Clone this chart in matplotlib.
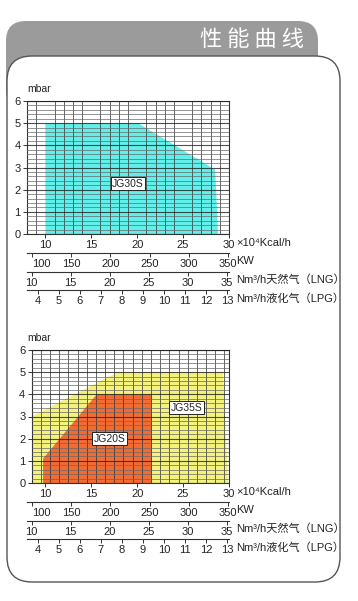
import matplotlib
matplotlib.use("Agg")
import matplotlib.pyplot as plt
from matplotlib.patches import FancyBboxPatch
import numpy as np

plt.rcParams["font.family"] = ["Liberation Sans", "Noto Sans CJK SC", "DejaVu Sans"]

W, H = 358, 601

# ---- data ----
pressure_ticks = [0, 1, 2, 3, 4, 5, 6]
kcal_ticks = [10, 15, 20, 25, 30]
kw_ticks = [100, 150, 200, 250, 300, 350]
lng_ticks = [10, 15, 20, 25, 30, 35]
lpg_ticks = [4, 5, 6, 7, 8, 9, 10, 11, 12, 13]

# conversions to x10^4 kcal/h
KW_PER_UNIT = 11.7
LNG_FACTOR = 0.85
LPG_FACTOR = 2.29

jg30s_x = [10, 10, 20.1, 28.5, 28.8]
jg30s_y = [0, 5, 5, 2.9, 0]

jg35s_x = [8.5, 8.5, 17.9, 29.35, 29.9]
jg35s_y = [0, 3.0, 5, 5, 0]

jg20s_x = [9.75, 9.75, 15.6, 21.6, 21.6]
jg20s_y = [0, 1.1, 4.0, 4.0, 0]

unit_labels = ["×10⁴Kcal/h", "KW", "Nm³/h天然气（LNG）", "Nm³/h液化气（LPG）"]

TXT = "#222222"
FS = 8


def px_rect(x0, y0, x1, y1):
    return [x0 / W, 1 - y1 / H, (x1 - x0) / W, (y1 - y0) / H]


fig = plt.figure(figsize=(W / 100, H / 100), dpi=100)

# background: grey tab + white rounded panel
bg = fig.add_axes([0, 0, 1, 1], zorder=0)
bg.set_xlim(0, W)
bg.set_ylim(0, H)
bg.axis("off")
bg.add_patch(FancyBboxPatch((6, H - 110), 312, 89, boxstyle="round,pad=0,rounding_size=20",
                            fc="#9b9b9b", ec="none"))
bg.add_patch(FancyBboxPatch((7, H - 582), 333, 526, boxstyle="round,pad=0,rounding_size=25",
                            fc="white", ec="#555555", lw=1.0))
bg.text(304, H - 40, "性 能 曲 线", color="white", fontsize=16, ha="right", va="center",
        family=["Noto Sans CJK SC", "DejaVu Sans"])


def main_chart(x0, x1, y0, y1, xlim, minor_x, polys, labels):
    ax = fig.add_axes(px_rect(x0, y0, x1, y1), zorder=2)
    ax.set_xlim(*xlim)
    ax.set_ylim(0, 6)
    for xs, ys, col in polys:
        ax.fill(xs, ys, color=col, lw=0, zorder=1)
    ax.set_xticks(kcal_ticks)
    ax.set_xticks(minor_x, minor=True)
    ax.set_yticks(pressure_ticks)
    ax.set_yticks(np.round(np.arange(0, 6.01, 0.2), 1), minor=True)
    ax.tick_params(which="minor", length=0)
    ax.tick_params(which="major", length=3, width=0.7, color="#333333",
                   labelsize=FS, labelcolor=TXT, pad=1.5)
    ax.set_axisbelow(False)
    ax.grid(which="minor", axis="x", color="#333333", lw=0.7, alpha=0.75)
    ax.grid(which="minor", axis="y", color="#666666", lw=0.7, alpha=0.7)
    ax.grid(which="major", axis="y", color="#222222", lw=0.8, alpha=0.8)
    for s in ax.spines.values():
        s.set_color("#333333")
        s.set_linewidth(0.8)
    for xt, yt, txt in labels:
        ax.text(xt, yt, txt, fontsize=7.5, ha="center", va="center", color=TXT, zorder=5,
                bbox=dict(boxstyle="square,pad=0.15", fc="white", ec="#222222", lw=0.7))
    fig.text(27 / W, 1 - (y0 - 12) / H, "mbar", fontsize=7.5, color=TXT, ha="left", va="center")
    return ax


def scale_row(y_line, ticks, pos, first_left=False):
    ax = fig.add_axes(px_rect(27, y_line - 0.5, 229, y_line), zorder=2)
    ax.set_facecolor("none")
    ax.set_xlim(8, 30)
    for k in ["top", "left", "right"]:
        ax.spines[k].set_visible(False)
    ax.spines["bottom"].set_color("#333333")
    ax.spines["bottom"].set_linewidth(0.8)
    ax.set_yticks([])
    ax.set_xticks(pos)
    ax.set_xticklabels([str(t) for t in ticks])
    ax.tick_params(axis="x", length=3, width=0.7, color="#333333", labelsize=FS,
                   labelcolor=TXT, pad=1)
    if first_left:
        ax.get_xticklabels()[0].set_horizontalalignment("left")
    return ax


def unit_text(y_px, txt):
    fig.text(236 / W, 1 - y_px / H, txt, fontsize=FS, color=TXT, ha="left", va="center")


def chart_block(y_zero, x0, xlim, minor_x, polys, labels):
    main_chart(x0, 229, y_zero - 133, y_zero, xlim, minor_x, polys, labels)
    kw_pos = [v / KW_PER_UNIT for v in kw_ticks]
    lng_pos = [v * LNG_FACTOR for v in lng_ticks]
    lpg_pos = [v * LPG_FACTOR for v in lpg_ticks]
    scale_row(y_zero + 19, kw_ticks, kw_pos, first_left=True)
    scale_row(y_zero + 38, lng_ticks, lng_pos)
    scale_row(y_zero + 56, lpg_ticks, lpg_pos)
    unit_text(y_zero + 9, unit_labels[0])
    unit_text(y_zero + 27, unit_labels[1])
    unit_text(y_zero + 46, unit_labels[2])
    unit_text(y_zero + 65, unit_labels[3])


px_per_unit = 202 / 22

chart_block(234, 27, (8, 30), np.arange(8, 31, 1),
            [(jg30s_x, jg30s_y, "#62efe9")],
            [(19.0, 2.27, "JG30S")])

chart_block(483, 27 + 0.5 * px_per_unit, (8.5, 30), np.arange(8.5, 30.1, 1),
            [(jg35s_x, jg35s_y, "#f3f27c"), (jg20s_x, jg20s_y, "#f26b32")],
            [(17.0, 2.0, "JG20S"), (25.4, 3.4, "JG35S")])

fig.savefig("out.png", dpi=100)
